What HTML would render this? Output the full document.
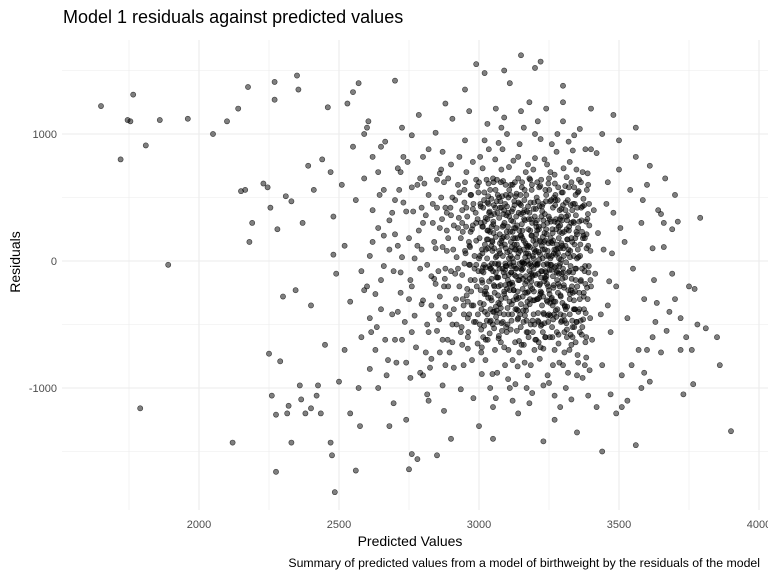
<!DOCTYPE html>
<html><head><meta charset="utf-8"><style>
body{margin:0;background:#fff;width:768px;height:576px;overflow:hidden;font-family:"Liberation Sans",sans-serif}
svg{display:block}
</style></head><body>
<svg id="chart" width="768" height="576">
<text x="63" y="23" font-size="18" fill="#000">Model 1 residuals against predicted values</text>
<g id="grid"></g>
<g id="points"></g>
<g id="ticks"></g>
<text x="410" y="546" font-size="14" text-anchor="middle">Predicted Values</text>
<text transform="translate(20,262) rotate(-90)" font-size="14" text-anchor="middle">Residuals</text>
<text x="760" y="567" font-size="12.3" text-anchor="end">Summary of predicted values from a model of birthweight by the residuals of the model</text>
</svg>
<script>
const xTicks=[2000,2500,3000,3500,4000];
const yTicks=[-1000,0,1000];
const xMinor=[1750,2250,2750,3250,3750];
const yMinor=[-1500,-500,500,1500];
const outliers=[1650,1220,1720,800,1745,1110,1755,1100,1765,1310,1810,910,1860,1110,1890,-30,1790,-1160,1960,1120,2050,1000,2100,1100,2120,-1430,2140,1200,2150,550,2165,560,2175,1370,2180,150,2190,300,2230,610,2245,580,2250,-730,2255,420,2260,-1060,2270,1270,2270,1410,2275,-1210,2275,-1660,2280,250,2290,-790,2300,-280,2310,510,2315,-1200,2320,-1140,2330,470,2330,-1430,2345,-230,2350,1460,2355,1350,2360,-980,2365,-1090,2370,300,2380,-1200,2390,750,2400,-1160,2400,-350,2410,560,2420,-1060,2425,-980,2435,-1200,2440,800,2450,-660,2460,1210,2470,700,2470,-1430,2475,-1530,2480,350,2480,50,2485,-1820,2490,-100,2500,-950,2510,600,2520,-700,2530,1240,2540,-1200,2550,1330,2560,-1650,2570,1400,2575,-1300,2580,-600,2590,1000,2600,1050,2600,-200,2610,-850,2620,400,2640,-1000,2650,900,2660,200,2680,-1300,2700,1420,2710,-400,2720,700,2740,-1250,2750,-1640,2760,-1520,2780,-1560,2800,-900,2820,-1100,2850,-1530,2880,1240,2900,-1400,2950,1350,2990,1550,3000,-1300,3020,1480,3050,-1400,3090,1500,3110,1400,3150,1620,3200,1520,3220,1570,3230,-1420,3300,1380,3350,-1350,3400,1200,3420,-1150,3440,-1500,3480,1150,3490,-1200,3510,-1150,3560,-1450,3580,-1000,3600,-700,3620,-600,3640,400,3650,370,3660,300,3680,-400,3690,250,3700,-300,3710,310,3720,-700,3730,-1050,3740,-600,3750,-200,3760,-700,3765,-970,3770,-220,3780,-500,3790,340,3810,-530,3850,-600,3860,-820,3900,-1340];
const spread=[2520,120,2540,-320,2560,480,2580,-80,2590,650,2610,-450,2620,820,2630,-700,2640,260,2650,-150,2660,560,2670,-900,2680,90,2690,380,2700,-620,2710,730,2720,-250,2730,460,2740,-800,2750,180,2760,990,2770,-430,2780,600,2790,-60,2800,300,2810,-720,2820,880,2830,-350,2840,150,2850,-550,2860,690,2870,-980,2880,420,2890,-200,2900,760,2910,-840,2920,30,2930,540,2940,-660,2950,950,2960,-320,2970,230,2980,-1080,2990,640,2550,900,2570,-1000,2605,1100,2635,-520,2665,940,2695,-1120,2725,1050,2755,-920,2785,1150,2815,-1050,2845,1010,2875,-1180,2905,1120,2935,-1010,2965,1180,3420,850,3440,-820,3460,620,3470,-560,3480,380,3490,-200,3500,720,3510,-900,3520,150,3530,-450,3540,560,3550,-60,3560,820,3570,-700,3580,300,3590,-300,3600,600,3610,-950,3620,100,3630,-480,3440,1000,3470,-1050,3500,950,3530,-1100,3560,1050,3590,-880,3610,750,3635,-330,3650,-720,3660,110,3670,-550,3690,-100,3700,520,3720,-450,3460,-350,3505,260,3545,-820,3585,480,3625,-150,3665,650,2700,210,2720,-90,2740,390,2760,-560,2780,120,2800,-310,2820,520,2840,-140,2860,260,2880,-820,2900,360,2800,820,2830,-770,2760,-200,2790,650,2880,-60,2870,860,2650,-380,2620,150,2590,-230];
const core=[3000,20,3010,-150,3020,310,3030,-420,3040,560,3050,-80,3060,190,3070,-610,3080,720,3090,-260,3100,430,3110,-20,3120,-780,3130,260,3140,650,3150,-340,3160,90,3170,-560,3180,380,3190,-120,3200,810,3210,-470,3220,150,3230,-690,3240,520,3250,-230,3260,40,3270,680,3280,-380,3290,280,3300,-820,3310,460,3320,-90,3330,620,3340,-520,3350,210,3360,-300,3370,700,3380,-640,3390,120,3400,-200,3005,450,3015,-600,3025,90,3035,880,3045,-310,3055,370,3065,-880,3075,140,3085,-480,3095,600,3105,-700,3115,320,3125,-40,3135,-550,3145,920,3155,240,3165,-180,3175,760,3185,-820,3195,410,3205,-30,3215,580,3225,-350,3235,90,3245,-900,3255,700,3265,-460,3275,330,3285,-100,3295,540,3305,-720,3315,170,3325,-260,3335,870,3345,-640,3355,30,3365,420,3375,-380,3385,560,3395,-860,2980,-350,2990,160,2970,520,2960,-600,2950,80,2940,400,2930,-200,2920,-500,2910,280,2900,-80,2890,650,2880,-360,2870,110,2860,-720,2850,420,2955,700,2975,-780,2995,330,2965,-30,2945,-350,2925,600,2905,-640,2885,240,2865,500,2845,-180,3010,-890,3040,-1000,3070,930,3100,1000,3130,-970,3160,1050,3190,-1040,3220,960,3250,-960,3280,1000,3310,-1000,3340,990,3370,-920,3400,880,3030,1080,3060,-1080,3090,1130,3120,-1100,3150,1180,3180,-1120,3210,1100,3240,1200,3270,-1060,3300,1100,3330,-1090,3360,1040,3390,-1060,3012,60,3022,-240,3032,170,3042,-470,3052,620,3062,-130,3072,340,3082,-550,3092,130,3102,-370,3112,520,3122,180,3132,-120,3142,380,3152,-660,3162,480,3172,-250,3182,110,3192,-560,3202,300,3212,-100,3222,640,3232,-420,3242,210,3252,-70,3262,-600,3272,440,3282,60,3292,-280,3302,730,3312,-490,3322,270,3332,-200,3342,450,3352,-740,3362,130,3372,-460,3382,310,3392,-40,3003,-500,3013,730,3023,-780,3033,240,3043,-60,3053,440,3063,-390,3073,-60,3083,510,3093,-820,3103,270,3113,-540,3123,790,3133,-280,3143,100,3153,580,3163,-800,3173,0,3183,640,3193,-310,3203,170,3213,-640,3223,350,3233,-160,3243,760,3253,-600,3263,220,3273,-320,3283,580,3293,-480,3303,40,3313,660,3323,-700,3333,150,3343,-380,3353,540,3363,-160,3373,200,3383,-760,3393,450,3007,300,3017,-340,3027,640,3037,-40,3047,160,3057,-700,3067,520,3077,-190,3087,280,3097,-520,3107,740,3117,-340,3127,440,3137,30,3147,-420,3157,-140,3167,700,3177,-600,3187,200,3197,460,3207,-300,3217,-770,3227,90,3237,560,3247,-480,3257,310,3267,-190,3277,860,3287,-800,3297,120,3307,-360,3317,480,3327,-580,3337,310,3347,-60,3357,640,3367,-580,3377,-80,3387,330,3397,-450,3008,-720,3018,480,3028,-470,3038,390,3048,-890,3058,800,3068,-30,3078,620,3088,-90,3098,360,3108,-180,3118,-420,3128,620,3138,-830,3148,200,3158,380,3168,-390,3178,-30,3188,560,3198,-700,3208,620,3218,-180,3228,450,3238,-600,3248,140,3258,-300,3268,500,3278,-560,3288,230,3298,-140,3308,590,3318,-880,3328,440,3338,-380,3348,720,3358,-250,3368,230,3378,-820,3388,690,3398,80,2985,-150,2995,-650,2975,250,2965,-420,2955,420,2945,-820,2935,180,2925,-60,2915,480,2895,-420,2875,620,2855,-80,2835,300,2815,-500,2795,420,2998,540,2988,-480,2978,780,2968,110,2958,-220,2948,560,2938,-520,2928,340,2918,-300,2908,90,2898,420,2888,-620,2878,-140,2868,330,2858,-460,3004,820,3014,-50,3024,-620,3034,450,3044,120,3054,-530,3064,640,3074,-340,3084,880,3094,-20,3104,-930,3114,150,3124,-230,3134,530,3144,-720,3154,-10,3164,320,3174,-900,3184,-200,3194,720,3204,-620,3214,250,3224,-500,3234,800,3244,-320,3254,470,3264,-820,3274,50,3284,-650,3294,350,3304,-210,3314,-600,3324,780,3334,-520,3344,180,3354,-800,3364,620,3374,-250,3384,100,3394,280,3404,-620,3410,400,3415,-100,3425,220,3435,-420,3445,90,3455,450,3465,-160,3475,60,3020,950,3050,-1150,3080,1050,3110,-1000,3140,820,3170,-1000,3200,1000,3230,-980,3260,920,3290,-1150,3320,940,3350,-900,3380,880,3140,-1200,3300,1250,3270,-1250,3180,1250,3060,1200];
const dense=[2940,-110,2942,230,2946,-420,2948,460,2952,60,2956,-270,2958,350,2962,-560,2964,150,2968,-30,2972,520,2974,-350,2978,280,2982,-480,2984,40,2988,380,2992,-200,2994,590,2998,-80,3002,180,3004,-330,3006,430,3008,-540,3011,90,3014,270,3016,-90,3019,540,3021,-400,3024,340,3026,-210,3029,20,3031,-620,3034,610,3036,-160,3039,230,3041,-380,3044,490,3046,-20,3049,-500,3051,310,3054,100,3056,-250,3059,560,3061,-440,3064,40,3066,380,3069,-130,3071,-590,3074,210,3076,470,3079,-300,3081,120,3084,-60,3086,630,3089,-420,3091,300,3094,-190,3096,520,3099,-560,3101,70,3104,380,3106,-110,3109,-320,3111,230,3114,600,3116,-470,3119,20,3121,410,3124,-230,3126,130,3129,-640,3131,510,3134,-60,3136,280,3139,-390,3141,60,3144,-150,3146,450,3149,-520,3151,200,3154,620,3156,-280,3159,-20,3161,330,3164,-430,3166,140,3169,520,3171,-160,3174,-560,3176,250,3179,40,3181,-340,3184,460,3186,-100,3189,600,3191,-470,3194,160,3196,-240,3199,350,3201,-620,3204,80,3206,500,3209,-30,3211,-410,3214,270,3216,-190,3219,590,3221,-510,3224,120,3226,390,3229,-280,3231,-30,3234,220,3236,-600,3239,470,3241,-120,3244,300,3246,-430,3249,40,3251,560,3254,-330,3256,180,3259,-70,3261,-520,3264,420,3266,-210,3269,90,3271,610,3274,-390,3276,250,3279,-150,3281,480,3284,-580,3286,20,3289,330,3291,-270,3294,140,3296,-470,3299,540,3301,-90,3304,230,3306,-350,3309,400,3311,-10,3314,-540,3316,170,3319,-230,3321,580,3324,-420,3326,80,3329,300,3331,-140,3334,-600,3336,450,3339,-310,3341,130,3344,-60,3346,360,3349,-480,3351,-200,3354,260,3356,550,3359,-380,3361,40,3364,-150,3366,320,3369,-520,3371,180,3374,-280,3376,440,3379,-40,3381,-410,3384,210,3386,-210,3389,370,3391,-90,2950,620,2960,-690,2970,-150,2980,450,2990,-30,3000,620,3010,-680,3020,-260,3030,460,3040,-60,3050,650,3060,-360,3070,-20,3080,420,3090,-680,3100,190,3110,-230,3120,600,3130,-60,3140,-450,3150,370,3160,-660,3170,120,3180,650,3190,-220,3200,-20,3210,470,3220,-680,3230,320,3240,-90,3250,650,3260,-290,3270,-700,3280,300,3290,-20,3300,440,3310,-380,3320,90,3330,-660,3340,580,3350,20,3360,-560,3370,430,3380,-180,3390,600,3045,270,3055,-200,3065,-480,3075,420,3085,40,3095,-290,3105,500,3115,-90,3125,260,3135,-380,3145,-20,3155,180,3165,-250,3175,430,3185,-500,3195,20,3205,270,3215,-290,3225,-80,3235,370,3245,80,3255,-430,3265,160,3275,-40,3285,270,3295,-100,3305,-560,3315,320,3325,30,3335,-250,3345,520,3355,-400,3033,-290,3043,360,3053,-190,3063,260,3073,-410,3083,180,3093,450,3103,-150,3113,40,3123,-310,3133,350,3143,-630,3153,-70,3163,560,3173,-320,3183,240,3193,-110,3203,410,3213,-480,3223,-250,3233,150,3243,-20,3253,330,3263,-350,3273,520,3283,-180,3293,10,3303,-430,3313,250,3323,-80,3333,400,3343,-240,3353,90,3363,-470,3373,490,3383,-600,3018,-30,3028,170,3038,-570,3048,80,3058,420,3068,-270,3078,-640,3088,190,3098,-40,3108,560,3118,-170,3128,90,3138,-240,3148,520,3158,-390,3168,60,3178,330,3188,-40,3198,-310,3208,240,3218,50,3228,-560,3238,-140,3248,610,3258,-30,3268,-420,3278,130,3288,400,3298,-330,3308,-130,3318,360,3328,-230,3338,40,3348,-480,3358,310,3368,-60,3378,180,3388,-300,3398,-150,3107,20,3117,110,3127,-110,3137,180,3147,80,3157,-60,3167,-120,3177,120,3187,-160,3197,90,3207,-180,3217,160,3227,20,3237,-80,3247,-200,3257,150,3267,60,3277,-90,3287,-40,3297,220,3122,310,3142,-290,3162,-20,3182,-300,3202,130,3222,-130,3242,-310,3262,250,3282,-250,3302,100,3092,-120,3072,80,3052,220,3032,100,3012,-170];
const dense2=[3003,40,3009,-380,3015,420,3021,130,3027,-260,3033,510,3039,-480,3045,-140,3051,290,3057,-20,3063,470,3069,-330,3075,60,3081,-490,3087,370,3093,-70,3099,230,3105,-420,3111,-180,3117,390,3123,-10,3129,180,3135,-300,3141,460,3147,-120,3153,290,3159,-480,3165,30,3171,390,3177,-240,3183,-20,3189,200,3195,-420,3201,-110,3207,320,3213,70,3219,-260,3225,430,3231,-410,3237,160,3243,-180,3249,350,3255,-30,3261,140,3267,-320,3273,480,3279,-80,3285,180,3291,-420,3297,320,3303,-190,3309,120,3315,-360,3321,240,3327,-40,3333,-470,3339,300,3345,-150,3351,420,3006,-230,3012,270,3018,-510,3024,-50,3030,240,3036,380,3042,-290,3048,150,3054,-400,3060,30,3066,-130,3072,500,3078,-370,3084,270,3090,-240,3096,100,3102,-500,3108,350,3114,-40,3120,-190,3126,470,3132,90,3138,-460,3144,240,3150,-60,3156,-220,3162,400,3168,-360,3174,110,3180,-140,3186,330,3192,40,3198,-500,3204,210,3210,-300,3216,430,3222,-80,3228,190,3234,-490,3240,40,3246,-30,3252,-260,3258,480,3264,-120,3270,310,3276,-440,3282,100,3288,-200,3294,410,3300,-60,3306,-470,3312,350,3318,60,3324,-300,3330,180,3336,-90,3342,-380,3348,230,2990,300,2996,-420,2984,-60,2978,410,2972,-240,2966,120,2960,-450,2954,270,2948,-20,2942,-300,3130,-380,3150,440,3170,-470,3190,300,3210,-20,3230,280,3250,-420,3270,-50,3290,100,3110,80,3090,400,3070,-200,3050,-400,3030,330,3010,-80,3095,-40,3115,-90,3135,130,3155,-10,3175,60,3195,-60,3215,10,3235,-130,3255,20,3275,90,3140,-150,3160,160,3180,-80,3200,70,3220,-240,3120,230,3100,-220,3080,160,3060,-90,3240,250];
const mid=[2610,40,2630,-260,2645,520,2665,-620,2680,320,2695,-80,2705,-800,2715,560,2725,30,2735,-480,2745,780,2755,-150,2765,390,2775,-680,2785,240,2795,-340,2805,610,2815,-30,2825,-840,2835,450,2845,100,2855,-420,2865,720,2875,-200,2885,80,2895,-720,2905,500,2915,-100,2925,260,2935,-560,2615,-560,2640,700,2660,-40,2690,-420,2710,120,2730,820,2750,-300,2770,20,2790,-880,2810,360,2830,-120,2850,640,2870,-620,2890,180,2910,-380,2930,820,2675,-780,2700,480,2725,-620,2760,580,2795,90,2820,-560,2860,-280,2885,380,2905,-500,2940,300];
const X=v=>199+(v-2000)*0.28;
const Y=v=>261-v*0.127;
const ns="http://www.w3.org/2000/svg";
const grid=document.getElementById('grid'),pts=document.getElementById('points'),tk=document.getElementById('ticks');
function line(x1,y1,x2,y2,w,name){const l=document.createElementNS(ns,'line');l.setAttribute('x1',x1);l.setAttribute('y1',y1);l.setAttribute('x2',x2);l.setAttribute('y2',y2);l.setAttribute('stroke','#ebebeb');l.setAttribute('stroke-width',w);


grid.appendChild(l);}
xMinor.forEach(v=>line(X(v),40,X(v),510,0.6,'x-minor-gridline'));
yMinor.forEach(v=>line(62,Y(v),768,Y(v),0.6,'y-minor-gridline'));
xTicks.forEach(v=>line(X(v),40,X(v),510,1.1,'x-major-gridline'));
yTicks.forEach(v=>line(62,Y(v),768,Y(v),1.1,'y-major-gridline'));
function txt(x,y,s,a,name){const t=document.createElementNS(ns,'text');t.setAttribute('x',x);t.setAttribute('y',y);t.setAttribute('font-size','11');t.setAttribute('fill','#4d4d4d');t.setAttribute('text-anchor',a);t.textContent=s;


tk.appendChild(t);}
xTicks.forEach(v=>txt(X(v),528,v,'middle','x-tick-label'));
yTicks.forEach(v=>txt(57,Y(v)+4,v,'end','y-tick-label'));
[outliers,spread,mid,core,dense,dense2].forEach(arr=>{for(let i=0;i<arr.length;i+=2){const c=document.createElementNS(ns,'circle');c.setAttribute('cx',X(arr[i]));c.setAttribute('cy',Y(arr[i+1]));c.setAttribute('r','2.6');c.setAttribute('fill','rgba(0,0,0,0.5)');c.setAttribute('stroke','rgba(0,0,0,0.7)');c.setAttribute('stroke-width','0.6');


pts.appendChild(c);}});
</script>
</body></html>
